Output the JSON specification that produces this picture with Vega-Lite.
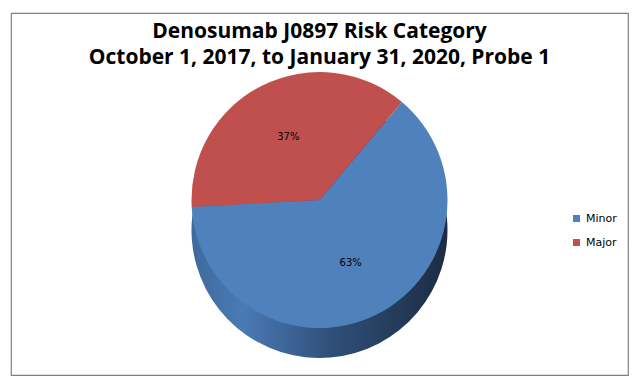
{
  "$schema": "https://vega.github.io/schema/vega-lite/v6.json",
  "width": 617,
  "height": 362,
  "autosize": {"type": "none"},
  "padding": {"left": 11, "top": 13, "right": 10, "bottom": 14},
  "background": "white",
  "view": {"stroke": "#808080", "strokeWidth": 1.2},
  "title": {
    "text": ["Denosumab J0897 Risk Category", "October 1, 2017, to January 31, 2020, Probe 1"],
    "font": "Open Sans",
    "fontSize": 21,
    "fontWeight": "bold",
    "color": "black",
    "anchor": "middle",
    "offset": -55,
    "lineHeight": 26
  },
  "layer": [
    {
      "data": {"values": [{"total": 100}]},
      "mark": {
        "type": "arc",
        "outerRadius": 128,
        "yOffset": 36,
        "color": {
          "gradient": "linear",
          "x1": 0, "y1": 0, "x2": 1, "y2": 0,
          "stops": [
            {"offset": 0, "color": "#3F6A9C"},
            {"offset": 0.2, "color": "#4A7AB5"},
            {"offset": 0.55, "color": "#2F4F78"},
            {"offset": 1, "color": "#1C2C44"}
          ]
        }
      },
      "encoding": {
        "theta": {"field": "total", "type": "quantitative", "stack": true, "scale": {"range": [0.7, 6.9832]}}
      }
    },
    {
      "data": {"values": [
        {"risk": "Minor", "pct": 63, "label": "63%", "idx": 1},
        {"risk": "Major", "pct": 37, "label": "37%", "idx": 2}
      ]},
      "encoding": {
        "theta": {"field": "pct", "type": "quantitative", "stack": true, "scale": {"range": [0.7, 6.9832]}},
        "order": {"field": "idx", "type": "quantitative"}
      },
      "layer": [
        {
          "mark": {"type": "arc", "outerRadius": 128, "yOffset": 6},
          "encoding": {
            "color": {
              "field": "risk",
              "type": "nominal",
              "sort": ["Minor", "Major"],
              "scale": {"domain": ["Minor", "Major"], "range": ["#4F81BD", "#C0504D"]},
              "legend": {
                "title": null,
                "orient": "none",
                "legendX": 560,
                "legendY": 200,
                "symbolType": "square",
                "symbolSize": 49,
                "symbolStrokeWidth": 0,
                "labelFont": "DejaVu Sans",
                "labelFontSize": 11,
                "labelColor": "#000000",
                "rowPadding": 12,
                "padding": 0
              }
            }
          }
        },
        {
          "mark": {"type": "text", "radius": 70, "yOffset": 6, "font": "DejaVu Sans", "fontSize": 10, "color": "#000000"},
          "encoding": {"text": {"field": "label", "type": "nominal"}}
        }
      ]
    }
  ]
}
